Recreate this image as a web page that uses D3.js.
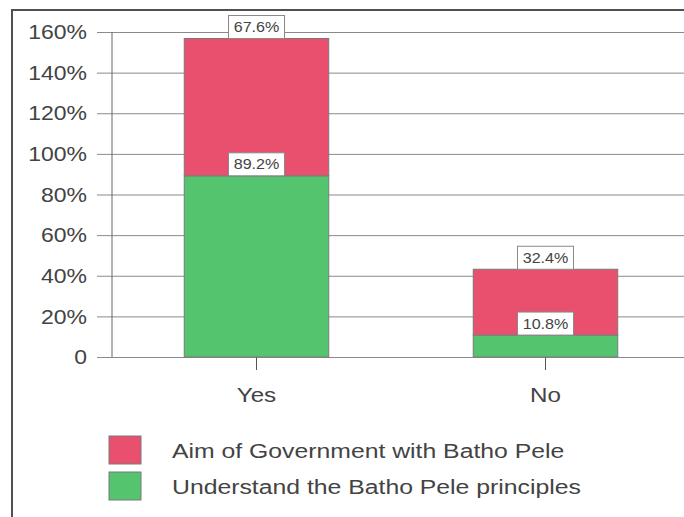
<!DOCTYPE html>
<html>
<head>
<meta charset="utf-8">
<script src="https://cdn.jsdelivr.net/npm/d3@7"></script>
<style>
  html, body { margin: 0; padding: 0; background: #fff; }
  svg { display: block; }
  text { font-family: "Liberation Sans", Arial, sans-serif; fill: #434343; }
</style>
</head>
<body>
<svg id="chart" width="684" height="517"></svg>
<script>
const categories = ["Yes", "No"];
const seriesKeys = ["understand", "aim"];
const seriesNames = ["Understand the Batho Pele principles", "Aim of Government with Batho Pele"];
const understandValues = [89.2, 10.8];
const aimValues = [67.6, 32.4];
const tickValues = [0, 20, 40, 60, 80, 100, 120, 140, 160];
const tickLabels = ["0", "20%", "40%", "60%", "80%", "100%", "120%", "140%", "160%"];
const colors = { understand: "#54c46f", aim: "#e8506e" };

const svg = d3.select("#chart");
const SX = 1.15;

const plot = { left: 112, right: 690, top: 32, bottom: 357 };
const y = d3.scaleLinear().domain([0, 160]).range([plot.bottom, plot.top]);
const x = d3.scaleBand().domain(categories).range([plot.left, plot.right])
  .paddingInner(0.5).paddingOuter(0.25);

// outer frame
svg.append("rect").attr("x", 12).attr("y", 10).attr("width", 720).attr("height", 540)
  .attr("fill", "none").attr("stroke", "#505050").attr("stroke-width", 2);

// gridlines via axis
const gridAxis = d3.axisLeft(y).tickValues(tickValues).tickSize(-(plot.right - 97)).tickFormat("");
const g = svg.append("g").attr("transform", "translate(97,0)").call(gridAxis);
g.select(".domain").remove();
g.selectAll(".tick line").attr("stroke", "#8a8a8a").attr("stroke-width", 1);

// vertical axis line
svg.append("line").attr("x1", plot.left).attr("x2", plot.left)
  .attr("y1", y(160)).attr("y2", y(0)).attr("stroke", "#666").attr("stroke-width", 1);

// y labels
svg.append("g").selectAll("text").data(tickValues).join("text")
  .attr("transform", d => `translate(87,${y(d)}) scale(${SX},1)`)
  .attr("text-anchor", "end").attr("dy", "0.36em")
  .style("font-size", "20px")
  .text((d, i) => tickLabels[i]);

// category ticks
svg.append("g").selectAll("line").data(categories).join("line")
  .attr("x1", d => x(d) + x.bandwidth() / 2).attr("x2", d => x(d) + x.bandwidth() / 2)
  .attr("y1", y(0)).attr("y2", y(0) + 13).attr("stroke", "#555");

// x labels
svg.append("g").selectAll("text").data(categories).join("text")
  .attr("transform", d => `translate(${x(d) + x.bandwidth() / 2},402) scale(${SX},1)`)
  .attr("text-anchor", "middle").style("font-size", "21px")
  .text(d => d);

// stacked data
const rows = categories.map((c, i) => ({ cat: c, understand: understandValues[i], aim: aimValues[i] }));
const stacked = d3.stack().keys(seriesKeys)(rows);

const layers = svg.append("g").selectAll("g").data(stacked).join("g")
  .attr("fill", d => colors[d.key]);
layers.selectAll("rect").data(d => d).join("rect")
  .attr("x", d => x(d.data.cat))
  .attr("width", x.bandwidth())
  .attr("y", d => y(d[1]))
  .attr("height", d => y(d[0]) - y(d[1]))
  .attr("stroke", "#7a7a7a").attr("stroke-width", 1);

// value labels
const labelsG = svg.append("g");
stacked.forEach(layer => {
  layer.forEach(d => {
    const cx = x(d.data.cat) + x.bandwidth() / 2;
    const top = y(d[1]);
    const val = d.data[layer.key];
    const bw = 56, bh = 23;
    labelsG.append("rect").attr("x", cx - bw / 2).attr("y", top - bh).attr("width", bw).attr("height", bh)
      .attr("fill", "#fff").attr("stroke", "#8a8a8a").attr("stroke-width", 1);
    labelsG.append("text")
      .attr("transform", `translate(${cx},${top - bh / 2}) scale(${SX},1)`)
      .attr("text-anchor", "middle").attr("dy", "0.36em")
      .style("font-size", "14px")
      .text(val.toFixed(1) + "%");
  });
});

// legend (aim first, understand second)
const legendOrder = ["aim", "understand"];
const legend = svg.append("g");
legendOrder.forEach((k, i) => {
  const cy = 450 + i * 36;
  legend.append("rect").attr("x", 109).attr("y", cy - 14).attr("width", 32).attr("height", 28)
    .attr("fill", colors[k]).attr("stroke", "#7a7a7a").attr("stroke-width", 1);
  legend.append("text")
    .attr("transform", `translate(172,${cy}) scale(1.18,1)`)
    .attr("dy", "0.36em").style("font-size", "21px")
    .text(seriesNames[seriesKeys.indexOf(k)]);
});
</script>
</body>
</html>
